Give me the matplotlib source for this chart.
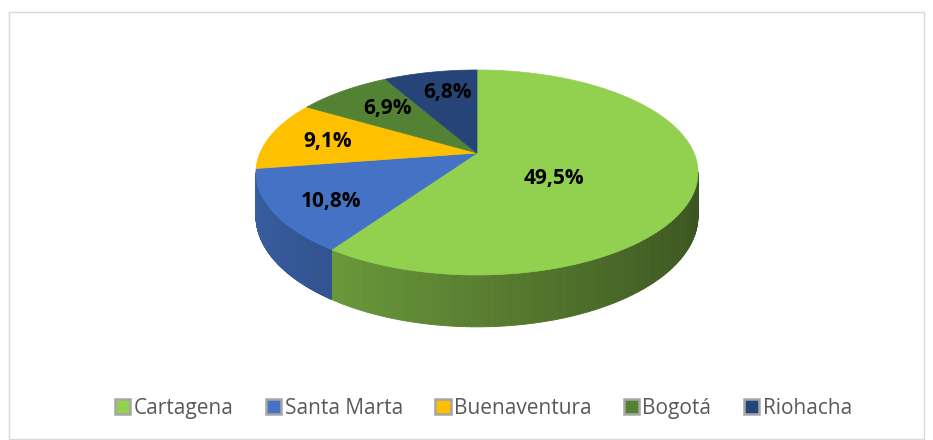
import numpy as np
import matplotlib
matplotlib.use("Agg")
import matplotlib.pyplot as plt
from matplotlib.patches import Polygon, Rectangle, Patch
from matplotlib.colors import to_rgb

categories = ["Cartagena", "Santa Marta", "Buenaventura", "Bogotá", "Riohacha"]
values = [49.5, 10.8, 9.1, 6.9, 6.8]
labels = ["49,5%", "10,8%", "9,1%", "6,9%", "6,8%"]
colors = ["#92D050", "#4472C4", "#FFC000", "#548235", "#264478"]

# layout (pixel space)
W, H = 933, 440
cx, cy = 477, 153
R, B, D, depth = 217, 98.8, 5.26, 42
label_frac = [0.38, 0.72, 0.76, 0.66, 0.8]
label_off = [(-4, 14), (-3, 8), (8, 2), (2, -2), (9, 6)]

fig = plt.figure(figsize=(W / 100, H / 100), dpi=100)
ax = fig.add_axes([0, 0, 1, 1])
ax.set_xlim(0, W)
ax.set_ylim(H, 0)
ax.axis("off")

def proj(u, v, drop=0.0):
    s = D / (D + v)
    return cx + R * u * s, cy - B * v * s + drop * s

vals = np.array(values, dtype=float)
frac = vals / vals.sum()
cum = np.concatenate([[0], np.cumsum(frac)])
starts = 90 - 360 * cum[:-1]
ends = 90 - 360 * cum[1:]

def shade(c, f):
    r, g, b = to_rgb(c)
    return (min(r * f, 1), min(g * f, 1), min(b * f, 1))

vlim = -1.0 / D
# sides (visible front part)
for i in range(len(vals)):
    ts = np.radians(np.linspace(starts[i], ends[i], 240))
    for a, b in zip(ts[:-1], ts[1:]):
        if np.sin(a) > vlim and np.sin(b) > vlim:
            continue
        ua, va = np.cos(a), min(np.sin(a), vlim)
        ub, vb = np.cos(b), min(np.sin(b), vlim)
        pts = [proj(ua, va), proj(ub, vb), proj(ub, vb, depth), proj(ua, va, depth)]
        um = (ua + ub) / 2
        f = 0.61 - 0.21 * um
        col = shade(colors[i], f)
        ax.add_patch(Polygon(pts, closed=True, facecolor=col, edgecolor=col, lw=0.6))

# top faces
for i in range(len(vals)):
    ts = np.radians(np.linspace(starts[i], ends[i], 240))
    pts = [proj(0, 0)] + [proj(np.cos(t), np.sin(t)) for t in ts]
    ax.add_patch(Polygon(pts, closed=True, facecolor=colors[i], edgecolor=colors[i], lw=0.5))

# labels
for i in range(len(vals)):
    t = np.radians((starts[i] + ends[i]) / 2)
    x, y = proj(label_frac[i] * np.cos(t), label_frac[i] * np.sin(t))
    ax.text(x + label_off[i][0], y + label_off[i][1], labels[i], ha="center", va="center",
            fontsize=15, fontweight="bold", color="black",
            family=["Open Sans", "DejaVu Sans"])

# frame
ax.add_patch(Rectangle((9, 12), 915, 427, fill=False, edgecolor="#D9D9D9", lw=1))

handles = [Patch(facecolor=c, edgecolor="#A6A6A6", lw=1.8) for c in colors]
leg = ax.legend(handles, categories, loc="center", bbox_to_anchor=(0.518, (H - 408) / H),
                ncol=5, frameon=False, handlelength=0.75, handleheight=0.75,
                handletextpad=0.15, columnspacing=1.55,
                prop={"family": ["Open Sans", "DejaVu Sans"], "size": 15})
for t in leg.get_texts():
    t.set_color("#595959")

fig.savefig("out.png", dpi=100, facecolor="white")
